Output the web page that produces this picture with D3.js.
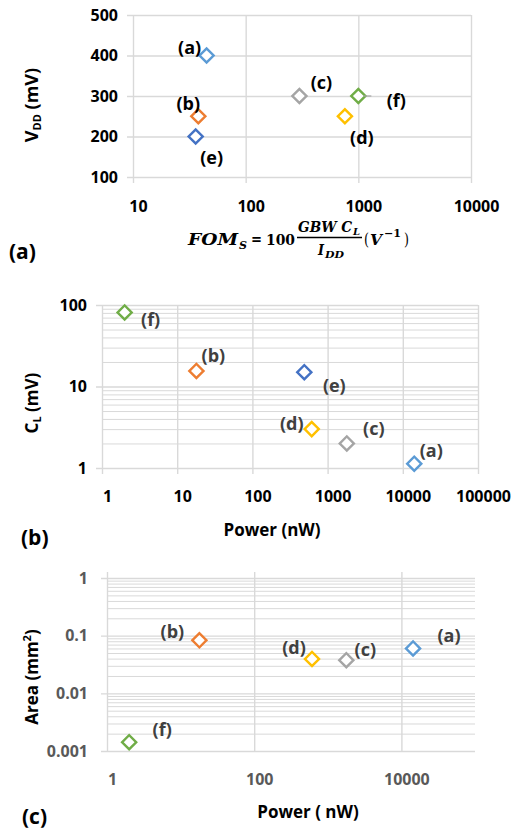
<!DOCTYPE html>
<html>
<head>
<meta charset="utf-8">
<script src="https://cdn.jsdelivr.net/npm/d3@7"></script>
<style>
  body { margin: 0; background: #fff; }
  svg text { font-family: "Open Sans", Lato, sans-serif; font-weight: 700; }
</style>
</head>
<body>
<div id="chart"></div>
<script>
// designs (a)..(f)
const designs = ["(a)", "(b)", "(c)", "(d)", "(e)", "(f)"];
const colors = ["#5b9bd5", "#ed7d31", "#a5a5a5", "#ffc000", "#4472c4", "#70ad47"];

// panel (a): FOM_S vs VDD
const fomS = [45, 38, 300, 760, 36, 1000];
const vdd = [400, 250, 300, 250, 200, 300];
const vddTicks = [100, 200, 300, 400, 500];
const fomTicks = [10, 100, 1000, 10000];

// panel (b): power vs CL
const powerB = [14200, 18, 1800, 615, 490, 2];
const cl = [1.13, 15.5, 2, 3, 15, 81];
const powerTicksB = [1, 10, 100, 1000, 10000, 100000];
const clTicks = [1, 10, 100];

// panel (c): power vs area, no (e)
const designsC = ["(a)", "(b)", "(c)", "(d)", "(f)"];
const colorsC = ["#5b9bd5", "#ed7d31", "#a5a5a5", "#ffc000", "#70ad47"];
const powerC = [14400, 18, 1785, 610, 2];
const area = [0.06, 0.083, 0.0375, 0.0394, 0.00142];
const powerTicksC = [1, 100, 10000];
const areaTicks = [0.001, 0.01, 0.1, 1];

// label offsets from marker (layout only)
const offA = [[-17, -8], [-10, -13], [22, -13], [17, 21], [16, 21], [38, 5]];
const offB = [[17, -13], [17, -15], [27, -15], [-20, -5], [30, 14], [26, 7]];
const offC = [[36, -13], [-27, -9], [19, -11], [-18, -11], [33, -13]];

const grid = "#d9d9d9";

const svg = d3.select("#chart").append("svg")
  .attr("width", 520).attr("height", 834);

function minorTicks(lo, hi) {
  const out = [];
  for (let e = Math.log10(lo); e < Math.log10(hi); e++) {
    for (let k = 2; k <= 9; k++) out.push(k * Math.pow(10, e));
  }
  return out;
}

function panel(o) {
  const g = svg.append("g");
  const [x0, x1] = o.x.range();
  const [y0, y1] = o.y.range(); // y0 bottom, y1 top
  const w = x1 - x0, h = y0 - y1;

  // minor horizontal grid
  if (o.yMinor) {
    g.append("g")
      .attr("transform", `translate(${x0},0)`)
      .call(d3.axisLeft(o.y).tickValues(o.yMinor).tickSize(-w).tickFormat(""))
      .call(s => s.select(".domain").remove())
      .selectAll("line").attr("stroke", grid).attr("stroke-width", 1);
  }

  // x axis + vertical grid
  const xa = g.append("g")
    .attr("transform", `translate(0,${y0 + o.xExt})`)
    .call(d3.axisBottom(o.x).tickValues(o.xTicks).tickFormat(d3.format("d"))
      .tickSize(-(h + o.xExt + o.topExt)).tickPadding(o.xPad));
  xa.select(".domain").remove();
  xa.selectAll("line").attr("stroke", grid).attr("stroke-width", 1.4);
  xa.selectAll("text").attr("fill", o.tickColor).style("font-size", o.tickSize + "px")
    .attr("dx", 5);

  // y axis + horizontal grid
  const ya = g.append("g")
    .attr("transform", `translate(${x0 - 6},0)`)
    .call(d3.axisLeft(o.y).tickValues(o.yTicks).tickFormat(o.yFormat)
      .tickSize(-(w + 6)).tickPadding(o.yPad));
  ya.select(".domain").remove();
  ya.selectAll("line").attr("stroke", grid).attr("stroke-width", 1.4);
  ya.selectAll("text").attr("fill", o.tickColor).style("font-size", o.tickSize + "px");

  // markers
  const sym = d3.symbol().type(d3.symbolSquare).size(100);
  g.selectAll(".pt").data(o.px).enter().append("path")
    .attr("d", sym)
    .attr("transform", (d, i) => `translate(${o.x(d)},${o.y(o.py[i])}) rotate(45)`)
    .attr("fill", "#fff")
    .attr("stroke", (d, i) => o.colors[i])
    .attr("stroke-width", 2.4);

  // data labels
  g.selectAll(".lb").data(o.px).enter().append("text")
    .attr("x", (d, i) => o.x(d) + o.off[i][0])
    .attr("y", (d, i) => o.y(o.py[i]) + o.off[i][1])
    .attr("text-anchor", "middle").attr("dy", "0.35em")
    .attr("fill", o.labelColor).style("font-size", "18px")
    .text((d, i) => o.names[i]);
  return g;
}

// ---------- (a)
const xA = d3.scaleLog().domain([10, 10000]).range([133, 471]);
const yA = d3.scaleLinear().domain([100, 500]).range([177, 15]);
const gA = panel({
  x: xA, y: yA, xTicks: fomTicks, yTicks: vddTicks, yFormat: d3.format("d"),
  xExt: 6, topExt: 0, xPad: 18, yPad: 9, tickColor: "#000", tickSize: 16,
  px: fomS, py: vdd, colors: colors, names: designs, off: offA, labelColor: "#000"
});
// leader line for (f)
gA.append("line")
  .attr("x1", xA(fomS[5]) + 5).attr("x2", xA(fomS[5]) + 13)
  .attr("y1", yA(vdd[5])).attr("y2", yA(vdd[5]))
  .attr("stroke", "#a5a5a5").attr("stroke-width", 1.2);

const tA = svg.append("text").attr("transform", "translate(38,105) rotate(-90)")
  .attr("text-anchor", "middle").style("font-size", "18px").attr("fill", "#000");
tA.append("tspan").text("V");
tA.append("tspan").text("DD").style("font-size", "11px").attr("dy", 3);
tA.append("tspan").text(" (mV)").attr("dy", -3);

// formula
const fm = svg.append("g").attr("fill", "#000");
function mt(x, y, s, size, len, upright) {
  const t = fm.append("text").attr("x", x).attr("y", y).text(s)
    .style("font-family", "'DejaVu Serif', 'Liberation Serif', serif")
    .style("font-style", upright ? "normal" : "italic")
    .style("font-weight", 700).style("font-size", size + "px");
  if (len) t.attr("textLength", len).attr("lengthAdjust", "spacingAndGlyphs");
  return t;
}
mt(188, 245, "FOM", 17, 50);
mt(239, 249, "S", 11, 8);
mt(251, 244, "=", 15, 11, true);
mt(266, 245, "100", 15, 29, true);
mt(298, 232, "GBW C", 14, 54);
mt(353, 235, "L", 10, 7);
fm.append("line").attr("x1", 297).attr("x2", 362).attr("y1", 237.5).attr("y2", 237.5)
  .attr("stroke", "#000").attr("stroke-width", 1.3);
mt(318, 255, "I", 14, 6);
mt(325, 258, "DD", 10, 19);
mt(364, 245, "(", 16, 5, true).style("font-weight", 400);
mt(370, 245, "V", 15, 12);
mt(384, 237, "−1", 11, 17, true);
mt(404, 245, ")", 16, 5, true).style("font-weight", 400);

svg.append("text").attr("x", 9).attr("y", 259).style("font-size", "21px").text("(a)");

// ---------- (b)
const xB = d3.scaleLog().domain([1, 100000]).range([102, 478]);
const yB = d3.scaleLog().domain([1, 100]).range([468, 305]);
panel({
  x: xB, y: yB, xTicks: powerTicksB, yTicks: clTicks, yFormat: d3.format("d"),
  yMinor: minorTicks(1, 100),
  xExt: 6, topExt: 0, xPad: 17, yPad: 9, tickColor: "#000", tickSize: 16,
  px: powerB, py: cl, colors: colors, names: designs, off: offB, labelColor: "#404040"
});
const tB = svg.append("text").attr("transform", "translate(38,403) rotate(-90)")
  .attr("text-anchor", "middle").style("font-size", "17px").attr("fill", "#000");
tB.append("tspan").text("C");
tB.append("tspan").text("L").style("font-size", "11px").attr("dy", 3);
tB.append("tspan").text(" (mV)").attr("dy", -3);
svg.append("text").attr("x", 272).attr("y", 536).attr("text-anchor", "middle")
  .style("font-size", "17px").text("Power (nW)");
svg.append("text").attr("x", 21).attr("y", 545).style("font-size", "21px").text("(b)");

// ---------- (c)
const xC = d3.scaleLog().domain([1, 100000]).range([107, 475]);
const yC = d3.scaleLog().domain([0.001, 1]).range([751, 578]);
panel({
  x: xC, y: yC, xTicks: powerTicksC, yTicks: areaTicks, yFormat: d => String(d),
  yMinor: minorTicks(0.001, 1),
  xExt: 0, topExt: 6, xPad: 23, yPad: 13, tickColor: "#595959", tickSize: 16,
  px: powerC, py: area, colors: colorsC, names: designsC, off: offC, labelColor: "#404040"
});
const tC = svg.append("text").attr("transform", "translate(38,677) rotate(-90)")
  .attr("text-anchor", "middle").style("font-size", "17px").attr("fill", "#000");
tC.append("tspan").text("Area (mm");
tC.append("tspan").text("2").style("font-size", "11px").attr("dy", -7);
tC.append("tspan").text(")").attr("dy", 7);
svg.append("text").attr("x", 308).attr("y", 818).attr("text-anchor", "middle")
  .style("font-size", "17px").text("Power ( nW)");
svg.append("text").attr("x", 22).attr("y", 824).style("font-size", "21px").text("(c)");
</script>
</body>
</html>
